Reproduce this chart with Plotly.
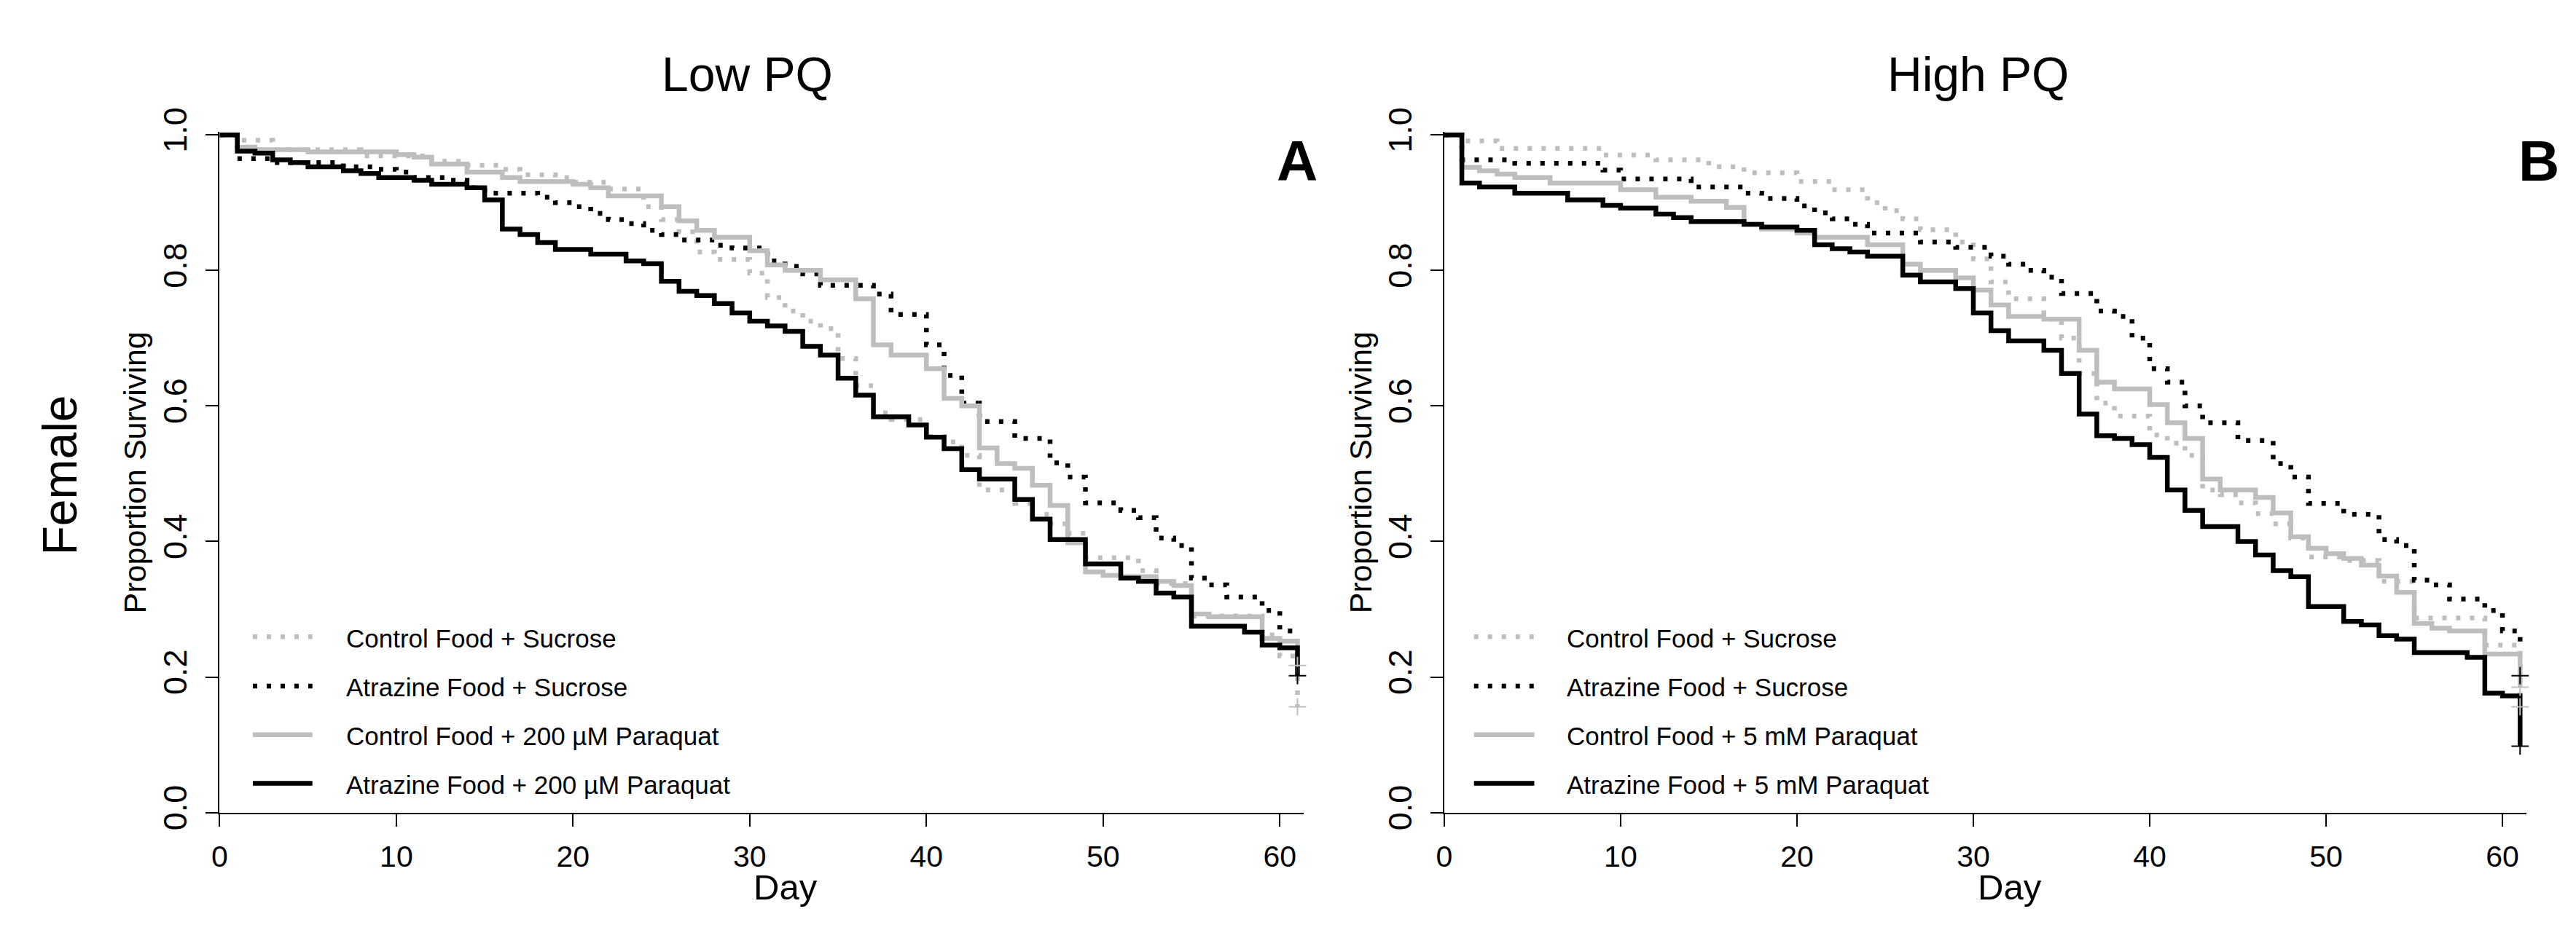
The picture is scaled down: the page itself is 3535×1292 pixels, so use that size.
import plotly.graph_objects as go

# ---------------- data ----------------
tick_days = [0, 10, 20, 30, 40, 50, 60]
tick_surv = [0.0, 0.2, 0.4, 0.6, 0.8, 1.0]
tick_surv_text = ["0.0", "0.2", "0.4", "0.6", "0.8", "1.0"]

panel_titles = ["Low PQ", "High PQ"]
panel_letters = ["A", "B"]
row_label = "Female"
x_title = "Day"
y_title = "Proportion Surviving"

legend_low = ["Control Food + Sucrose", "Atrazine Food + Sucrose",
              "Control Food + 200 µM Paraquat", "Atrazine Food + 200 µM Paraquat"]
legend_high = ["Control Food + Sucrose", "Atrazine Food + Sucrose",
               "Control Food + 5 mM Paraquat", "Atrazine Food + 5 mM Paraquat"]

# Low PQ panel
lo_ctrl_suc_days = [0, 1, 3, 8, 12, 14, 16, 17, 19, 20, 22, 24, 25, 26, 27, 28, 30, 31, 32, 33,
                    34, 35, 36, 37, 38, 40, 41, 42, 43, 45, 46, 47, 48, 49, 52, 53, 55, 59, 60, 61]
lo_ctrl_suc_surv = [1.0, 0.992, 0.978, 0.969, 0.961, 0.955, 0.949, 0.941, 0.937, 0.93,
                    0.92, 0.894, 0.875, 0.857, 0.827, 0.816, 0.796, 0.76, 0.74, 0.725,
                    0.714, 0.67, 0.63, 0.59, 0.58, 0.555, 0.547, 0.527, 0.476, 0.456,
                    0.44, 0.426, 0.412, 0.376, 0.357, 0.338, 0.29, 0.262, 0.231, 0.156]
lo_atr_suc_days = [0, 1, 3, 7, 9, 10, 11, 13, 14, 15, 18, 19, 20, 21, 22, 23, 24, 25, 26, 28,
                   29, 31, 32, 33, 34, 37, 38, 40, 41, 42, 43, 45, 47, 48, 49, 51, 52, 53, 54, 55,
                   56, 57, 59, 60, 61]
lo_atr_suc_surv = [1.0, 0.965, 0.959, 0.953, 0.949, 0.945, 0.937, 0.933, 0.922, 0.914,
                   0.908, 0.9, 0.894, 0.884, 0.875, 0.869, 0.859, 0.853, 0.845, 0.837,
                   0.833, 0.814, 0.806, 0.795, 0.778, 0.765, 0.735, 0.69, 0.645, 0.604,
                   0.577, 0.552, 0.516, 0.495, 0.457, 0.446, 0.435, 0.405, 0.394, 0.346,
                   0.336, 0.318, 0.298, 0.268, 0.268]
lo_ctrl_pq_days = [0, 1, 2, 5, 10, 11, 12, 14, 16, 17, 20, 21, 22, 25, 26, 27, 28, 30, 31, 32,
                   34, 36, 37, 38, 40, 41, 42, 43, 44, 45, 46, 47, 48, 49, 50, 51, 53, 54, 55, 56,
                   59, 60, 61]
lo_ctrl_pq_surv = [1.0, 0.982, 0.978, 0.975, 0.971, 0.967, 0.957, 0.945, 0.937, 0.931,
                   0.927, 0.922, 0.91, 0.894, 0.873, 0.859, 0.849, 0.829, 0.808, 0.80,
                   0.786, 0.758, 0.69, 0.675, 0.655, 0.611, 0.60, 0.538, 0.515, 0.508,
                   0.483, 0.453, 0.398, 0.355, 0.350, 0.348, 0.341, 0.335, 0.293, 0.289,
                   0.257, 0.253, 0.217]
lo_atr_pq_days = [0, 1, 2, 3, 4, 5, 7, 8, 9, 11, 12, 14, 15, 16, 17, 18, 19, 21, 23, 24,
                  25, 26, 27, 28, 29, 30, 31, 32, 33, 34, 35, 36, 37, 39, 40, 41, 42, 43, 45, 46,
                  47, 49, 51, 52, 53, 54, 55, 58, 59, 60, 61]
lo_atr_pq_surv = [1.0, 0.976, 0.973, 0.963, 0.959, 0.953, 0.947, 0.943, 0.937, 0.933,
                  0.927, 0.922, 0.904, 0.861, 0.853, 0.841, 0.831, 0.824, 0.814, 0.81,
                  0.784, 0.769, 0.763, 0.751, 0.737, 0.725, 0.718, 0.71, 0.688, 0.675,
                  0.641, 0.616, 0.584, 0.572, 0.554, 0.537, 0.506, 0.492, 0.462, 0.433,
                  0.403, 0.367, 0.346, 0.341, 0.324, 0.318, 0.275, 0.266, 0.247, 0.243, 0.202]

# High PQ panel
hi_ctrl_suc_days = [0, 1, 3, 9, 12, 15, 17, 20, 22, 24, 25, 26, 27, 29, 30, 31, 32, 34, 35, 36,
                    37, 38, 40, 41, 42, 43, 44, 45, 46, 47, 48, 49, 51, 53, 55, 59, 61]
hi_ctrl_suc_surv = [1.0, 0.991, 0.98, 0.97, 0.963, 0.953, 0.944, 0.931, 0.919, 0.90,
                    0.888, 0.876, 0.86, 0.842, 0.817, 0.783, 0.758, 0.728, 0.70, 0.648,
                    0.604, 0.585, 0.557, 0.545, 0.527, 0.476, 0.469, 0.457, 0.441, 0.426,
                    0.405, 0.377, 0.372, 0.341, 0.287, 0.247, 0.156]
hi_atr_suc_days = [0, 1, 4, 9, 10, 14, 17, 18, 20, 21, 22, 23, 24, 27, 29, 31, 32, 33, 34, 35,
                   37, 38, 39, 40, 41, 42, 43, 45, 47, 48, 49, 51, 53, 54, 55, 56, 57, 59, 60, 61]
hi_atr_suc_surv = [1.0, 0.963, 0.958, 0.948, 0.935, 0.923, 0.914, 0.906, 0.895, 0.885,
                   0.876, 0.868, 0.855, 0.842, 0.834, 0.821, 0.809, 0.80, 0.79, 0.766,
                   0.74, 0.732, 0.70, 0.655, 0.635, 0.60, 0.575, 0.549, 0.515, 0.495,
                   0.456, 0.44, 0.403, 0.394, 0.343, 0.336, 0.315, 0.298, 0.268, 0.252]
hi_ctrl_pq_days = [0, 1, 2, 3, 4, 6, 10, 12, 14, 16, 17, 18, 20, 21, 24, 26, 27, 29, 30, 31,
                   32, 34, 36, 37, 38, 40, 41, 42, 43, 44, 46, 47, 48, 49, 50, 51, 52, 53, 54, 55,
                   56, 57, 59, 61]
hi_ctrl_pq_surv = [1.0, 0.952, 0.947, 0.942, 0.937, 0.929, 0.919, 0.908, 0.902, 0.893,
                   0.868, 0.861, 0.855, 0.849, 0.838, 0.809, 0.80, 0.789, 0.771, 0.749,
                   0.732, 0.728, 0.682, 0.635, 0.625, 0.602, 0.575, 0.552, 0.492, 0.476,
                   0.465, 0.442, 0.407, 0.39, 0.382, 0.375, 0.365, 0.349, 0.325, 0.279,
                   0.272, 0.268, 0.234, 0.185]
hi_atr_pq_days = [0, 1, 2, 4, 7, 9, 10, 12, 13, 14, 17, 18, 20, 21, 22, 23, 24, 26, 27, 29,
                  30, 31, 32, 34, 35, 36, 37, 38, 39, 40, 41, 42, 43, 45, 46, 47, 48, 49, 51, 52,
                  53, 54, 55, 58, 59, 60, 61]
hi_atr_pq_surv = [1.0, 0.929, 0.923, 0.914, 0.904, 0.896, 0.892, 0.883, 0.878, 0.872,
                  0.868, 0.864, 0.859, 0.838, 0.832, 0.827, 0.821, 0.793, 0.783, 0.773,
                  0.737, 0.711, 0.696, 0.682, 0.648, 0.588, 0.556, 0.552, 0.543, 0.524,
                  0.476, 0.446, 0.422, 0.40, 0.38, 0.357, 0.348, 0.304, 0.282, 0.277,
                  0.261, 0.256, 0.236, 0.229, 0.176, 0.172, 0.098]

# censoring marks ("+") at the end of follow-up
censor_day = 61
lo_censor_gray = [0.217, 0.156]
lo_censor_black = [0.202]
hi_censor_gray = [0.185, 0.156]
hi_censor_black = [0.202, 0.098]

# ---------------- figure ----------------
W, H = 3535, 1292
FONT = "Liberation Sans, Arial, Helvetica, sans-serif"
GRAY = "#BEBEBE"
DOT = "6px,13px"
LW = 6.5


def px(x):
    return x / W


def py(y):
    return (H - y) / H


styles = [dict(color=GRAY, dash=DOT), dict(color="black", dash=DOT),
          dict(color=GRAY, dash="solid"), dict(color="black", dash="solid")]

panels = [
    dict(xa="x", ya="y", names=legend_low,
         series=[(lo_ctrl_suc_days, lo_ctrl_suc_surv), (lo_atr_suc_days, lo_atr_suc_surv),
                 (lo_ctrl_pq_days, lo_ctrl_pq_surv), (lo_atr_pq_days, lo_atr_pq_surv)],
         cg=lo_censor_gray, cb=lo_censor_black),
    dict(xa="x2", ya="y2", names=legend_high,
         series=[(hi_ctrl_suc_days, hi_ctrl_suc_surv), (hi_atr_suc_days, hi_atr_suc_surv),
                 (hi_ctrl_pq_days, hi_ctrl_pq_surv), (hi_atr_pq_days, hi_atr_pq_surv)],
         cg=hi_censor_gray, cb=hi_censor_black),
]

fig = go.Figure()
for p in panels:
    for (d, s), st, nm in zip(p["series"], styles, p["names"]):
        fig.add_trace(go.Scatter(
            x=d, y=s, mode="lines", line_shape="hv", name=nm, showlegend=False,
            line=dict(color=st["color"], width=LW, dash=st["dash"]),
            xaxis=p["xa"], yaxis=p["ya"]))
    for vals, col in ((p["cg"], GRAY), (p["cb"], "black")):
        fig.add_trace(go.Scatter(
            x=[censor_day] * len(vals), y=vals, mode="markers", showlegend=False,
            marker=dict(symbol="cross-thin", size=17, line=dict(color=col, width=2)),
            xaxis=p["xa"], yaxis=p["ya"], cliponaxis=False))

# geometry (pixels of the 3535x1292 canvas)
y_bottom = 1125
y_one = 150
y_max = 1.004
y_top = y_bottom - (y_bottom - y_one) * y_max
x_max = 61.37
left_dom = [px(283.3), px(1776)]
right_dom = [px(1969), px(3459)]
y_dom = [py(y_bottom), py(y_top)]

common_x = dict(range=[0, x_max], tickvals=tick_days, showline=True, linecolor="black",
                linewidth=2, ticks="outside", ticklen=17, tickwidth=2, tickcolor="black",
                showgrid=False, zeroline=False, tickfont=dict(family=FONT, size=41, color="black"),
                ticklabelstandoff=6)
common_y = dict(range=[0, y_max], tickvals=tick_surv, ticktext=tick_surv_text, showline=True,
                linecolor="black", linewidth=2, ticks="outside", ticklen=17, tickwidth=2,
                tickcolor="black", showgrid=False, zeroline=False, tickangle=-90,
                tickfont=dict(family=FONT, size=45, color="black"), domain=y_dom,
                ticklabelstandoff=8)

fig.update_layout(
    width=W, height=H, margin=dict(l=0, r=0, t=0, b=0),
    paper_bgcolor="white", plot_bgcolor="white", showlegend=False,
    xaxis=dict(common_x, domain=left_dom, anchor="y"),
    yaxis=dict(common_y, anchor="x"),
    xaxis2=dict(common_x, domain=right_dom, anchor="y2"),
    yaxis2=dict(common_y, anchor="x2"),
)

ann = []
shapes = []


def text(x, y, t, size, angle=0, family=FONT, xanchor="center"):
    ann.append(dict(x=px(x), y=py(y), xref="paper", yref="paper", text=t, showarrow=False,
                    font=dict(family=family, size=size, color="black"), textangle=angle,
                    xanchor=xanchor, yanchor="middle"))


text(1010, 63, panel_titles[0], 66)
text(2704, 63, panel_titles[1], 66)
text(1766, 188, "<b>%s</b>" % panel_letters[0], 78)
text(3476, 188, "<b>%s</b>" % panel_letters[1], 78)
text(63, 640, row_label, 66, angle=-90)
text(166, 636, y_title, 43, angle=-90)
text(1854, 636, y_title, 43, angle=-90)
text(1062, 1232, x_title, 49)
text(2748, 1232, x_title, 49)

rows = [872, 943, 1013, 1083]
for (x0, x1, xt, names) in ((329, 411, 455, legend_low), (2010, 2093, 2136, legend_high)):
    for yr, st, nm in zip(rows, styles, names):
        shapes.append(dict(type="line", xref="paper", yref="paper", x0=px(x0), x1=px(x1),
                           y0=py(yr), y1=py(yr),
                           line=dict(color=st["color"], width=LW, dash=st["dash"])))
        text(xt, yr + 2, nm, 35, xanchor="left")

fig.update_layout(annotations=ann, shapes=shapes)
fig.write_html("out.html")
